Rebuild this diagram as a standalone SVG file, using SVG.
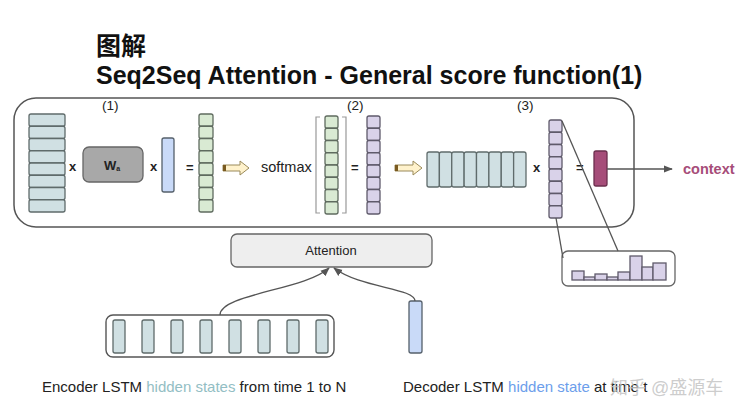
<svg xmlns="http://www.w3.org/2000/svg" width="748" height="411" viewBox="0 0 748 411">
<style>
text{font-family:"Liberation Sans",Arial,sans-serif;fill:#222}
.title{font-weight:bold;font-size:25px;fill:#111}
.cjk{font-family:"Liberation Sans","Noto Sans CJK SC",sans-serif}
.lbl{font-size:13.5px}
.op{font-size:13px;font-weight:bold}
.enc{fill:#d0e0e3;stroke:#5f6b6b;stroke-width:1.3}
.grn{fill:#d9ead3;stroke:#5f6b5f;stroke-width:1.3}
.pur{fill:#d9d2e9;stroke:#5f5a6b;stroke-width:1.3}
.blu{fill:#c9daf8;stroke:#55606b;stroke-width:1.3}
.ln{fill:none;stroke:#555;stroke-width:1.3}
.yarrow{fill:#fff2cc;stroke:#9a8a5a;stroke-width:1}
.cap{font-size:15px}
</style>
<defs>
<marker id="ah" viewBox="0 0 10 10" refX="9" refY="5" markerWidth="7" markerHeight="7" orient="auto-start-reverse">
<path d="M0,1 L10,5 L0,9 Z" fill="#555"/>
</marker>
</defs>

<g id="title">
<text class="title cjk" x="96" y="55" font-size="22">图解</text>
<text class="title" x="96" y="84">Seq2Seq Attention - General score function(1)</text>
</g>

<g id="panel">
<rect x="14" y="98" width="620" height="129" rx="22" fill="none" stroke="#555" stroke-width="1.5"/>
<text class="lbl" x="102" y="110">(1)</text>
<text class="lbl" x="347" y="110">(2)</text>
<text class="lbl" x="517" y="110">(3)</text>
</g>

<g id="enc-matrix">
<rect class="enc" x="29" y="114" width="36" height="12.25" rx="2"/>
<rect class="enc" x="29" y="126.25" width="36" height="12.25" rx="2"/>
<rect class="enc" x="29" y="138.5" width="36" height="12.25" rx="2"/>
<rect class="enc" x="29" y="150.75" width="36" height="12.25" rx="2"/>
<rect class="enc" x="29" y="163" width="36" height="12.25" rx="2"/>
<rect class="enc" x="29" y="175.25" width="36" height="12.25" rx="2"/>
<rect class="enc" x="29" y="187.5" width="36" height="12.25" rx="2"/>
<rect class="enc" x="29" y="199.75" width="36" height="12.25" rx="2"/>
</g>
<text class="op" x="69" y="171">x</text>

<g id="wa">
<rect x="83" y="147" width="60" height="35" rx="6" fill="#a8a8a8" stroke="#666" stroke-width="1.3"/>
<text x="104" y="170" font-size="13" font-weight="bold">W<tspan font-size="7" dy="1">a</tspan></text>
</g>
<text class="op" x="150" y="171">x</text>

<g id="dec-vec1">
<rect class="blu" x="162" y="138" width="12" height="54" rx="2"/>
</g>
<text class="op" x="186" y="172">=</text>

<g id="score1">
<rect class="grn" x="199" y="114" width="14" height="12.25" rx="2"/>
<rect class="grn" x="199" y="126.25" width="14" height="12.25" rx="2"/>
<rect class="grn" x="199" y="138.5" width="14" height="12.25" rx="2"/>
<rect class="grn" x="199" y="150.75" width="14" height="12.25" rx="2"/>
<rect class="grn" x="199" y="163" width="14" height="12.25" rx="2"/>
<rect class="grn" x="199" y="175.25" width="14" height="12.25" rx="2"/>
<rect class="grn" x="199" y="187.5" width="14" height="12.25" rx="2"/>
<rect class="grn" x="199" y="199.75" width="14" height="12.25" rx="2"/>
</g>

<g id="arrow1">
<path class="yarrow" d="M223,165 H240 V161 L249,168 L240,175 V171 H223 Z"/>
<rect x="223" y="165" width="3" height="6" fill="#7a5a20"/>
</g>

<g id="softmax">
<text x="261" y="172" font-size="14.5">softmax</text>
<path d="M320,117 H316 V213 H320" fill="none" stroke="#999" stroke-width="1.2"/>
<path d="M342,117 H346 V213 H342" fill="none" stroke="#999" stroke-width="1.2"/>
<rect class="grn" x="325" y="116" width="13" height="12.25" rx="2"/>
<rect class="grn" x="325" y="128.25" width="13" height="12.25" rx="2"/>
<rect class="grn" x="325" y="140.5" width="13" height="12.25" rx="2"/>
<rect class="grn" x="325" y="152.75" width="13" height="12.25" rx="2"/>
<rect class="grn" x="325" y="165" width="13" height="12.25" rx="2"/>
<rect class="grn" x="325" y="177.25" width="13" height="12.25" rx="2"/>
<rect class="grn" x="325" y="189.5" width="13" height="12.25" rx="2"/>
<rect class="grn" x="325" y="201.75" width="13" height="12.25" rx="2"/>
</g>
<text class="op" x="351" y="172">=</text>

<g id="attn-weights">
<rect class="pur" x="367" y="116" width="13" height="12.25" rx="2"/>
<rect class="pur" x="367" y="128.25" width="13" height="12.25" rx="2"/>
<rect class="pur" x="367" y="140.5" width="13" height="12.25" rx="2"/>
<rect class="pur" x="367" y="152.75" width="13" height="12.25" rx="2"/>
<rect class="pur" x="367" y="165" width="13" height="12.25" rx="2"/>
<rect class="pur" x="367" y="177.25" width="13" height="12.25" rx="2"/>
<rect class="pur" x="367" y="189.5" width="13" height="12.25" rx="2"/>
<rect class="pur" x="367" y="201.75" width="13" height="12.25" rx="2"/>
</g>

<g id="arrow2">
<path class="yarrow" d="M395,165 H413 V161 L422,168 L413,175 V171 H395 Z"/>
<rect x="395" y="165" width="3" height="6" fill="#7a5a20"/>
</g>

<g id="enc-matrix-t">
<rect class="enc" x="427" y="152" width="12.375" height="35" rx="2"/>
<rect class="enc" x="439.375" y="152" width="12.375" height="35" rx="2"/>
<rect class="enc" x="451.75" y="152" width="12.375" height="35" rx="2"/>
<rect class="enc" x="464.125" y="152" width="12.375" height="35" rx="2"/>
<rect class="enc" x="476.5" y="152" width="12.375" height="35" rx="2"/>
<rect class="enc" x="488.875" y="152" width="12.375" height="35" rx="2"/>
<rect class="enc" x="501.25" y="152" width="12.375" height="35" rx="2"/>
<rect class="enc" x="513.625" y="152" width="12.375" height="35" rx="2"/>
</g>
<text class="op" x="533" y="172">x</text>

<g id="attn-weights2">
<rect class="pur" x="549" y="120" width="13" height="12.25" rx="2"/>
<rect class="pur" x="549" y="132.25" width="13" height="12.25" rx="2"/>
<rect class="pur" x="549" y="144.5" width="13" height="12.25" rx="2"/>
<rect class="pur" x="549" y="156.75" width="13" height="12.25" rx="2"/>
<rect class="pur" x="549" y="169" width="13" height="12.25" rx="2"/>
<rect class="pur" x="549" y="181.25" width="13" height="12.25" rx="2"/>
<rect class="pur" x="549" y="193.5" width="13" height="12.25" rx="2"/>
<rect class="pur" x="549" y="205.75" width="13" height="12.25" rx="2"/>
</g>
<text class="op" x="576" y="172">=</text>

<g id="context-vec">
<rect x="594" y="151" width="13" height="35" rx="2" fill="#a64d79" stroke="#6b2f4d" stroke-width="1.3"/>
</g>

<g id="context-label">
<text x="683" y="174" font-size="14.5" font-weight="bold" style="fill:#a64d79">context</text>
</g>

<g id="histogram">
<rect x="562" y="251" width="113" height="35" rx="6" fill="#fff" stroke="#666" stroke-width="1.3"/>
<g class="pur">
<rect x="572" y="271" width="12" height="9"/>
<rect x="584" y="277" width="11" height="3"/>
<rect x="595" y="274" width="12" height="6"/>
<rect x="607" y="277" width="11" height="3"/>
<rect x="618" y="272" width="12" height="8"/>
<rect x="630" y="256" width="12" height="24"/>
<rect x="642" y="267" width="11" height="13"/>
<rect x="653" y="263" width="13" height="17"/>
</g>
</g>

<g id="attention">
<rect x="231" y="234" width="201" height="33" rx="6" fill="#eeeeee" stroke="#666" stroke-width="1.3"/>
<text x="331" y="255" font-size="13" text-anchor="middle">Attention</text>
</g>

<g id="enc-states">
<rect x="106" y="315" width="228" height="42" rx="7" fill="#fff" stroke="#555" stroke-width="1.4"/>
<rect class="enc" x="113" y="320" width="12" height="33" rx="2"/>
<rect class="enc" x="142" y="320" width="12" height="33" rx="2"/>
<rect class="enc" x="171" y="320" width="12" height="33" rx="2"/>
<rect class="enc" x="200" y="320" width="12" height="33" rx="2"/>
<rect class="enc" x="229" y="320" width="12" height="33" rx="2"/>
<rect class="enc" x="258" y="320" width="12" height="33" rx="2"/>
<rect class="enc" x="287" y="320" width="12" height="33" rx="2"/>
<rect class="enc" x="316" y="320" width="12" height="33" rx="2"/>
</g>

<g id="dec-state">
<rect class="blu" x="409" y="301" width="13" height="52" rx="2"/>
</g>

<g id="connectors">
<line class="ln" x1="607" y1="169" x2="672" y2="169" marker-end="url(#ah)"/>
<line class="ln" x1="562" y1="121" x2="618" y2="251"/>
<line class="ln" x1="556" y1="218" x2="563" y2="258"/>
<path class="ln" d="M220,315 C220,294 305,290 329,268" marker-end="url(#ah)"/>
<path class="ln" d="M415,301 C415,288 360,288 334,268" marker-end="url(#ah)"/>
</g>

<g id="captions">
<text class="cap" x="42" y="392">Encoder LSTM <tspan style="fill:#93bec4">hidden states</tspan> from time 1 to N</text>
<text class="cap" x="403" y="392">Decoder LSTM <tspan style="fill:#6d9eeb">hidden state</tspan> at time t</text>
<text class="cjk" x="610" y="394" font-size="18" style="fill:#c4c4c4;fill-opacity:0.85">知乎 @盛源车</text>
</g>
</svg>
